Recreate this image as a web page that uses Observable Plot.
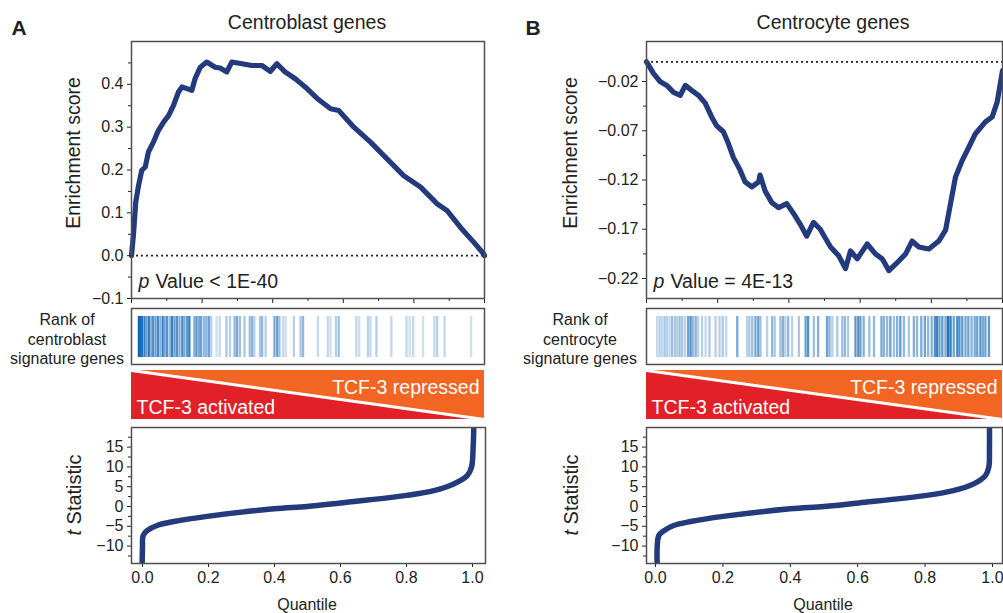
<!DOCTYPE html>
<html><head><meta charset="utf-8">
<script src="https://cdn.jsdelivr.net/npm/d3@7"></script>
<script src="https://cdn.jsdelivr.net/npm/@observablehq/plot@0.6"></script>
<style>
html,body{margin:0;padding:0;background:#fff;}
#fig{position:relative;width:1003px;height:613px;overflow:hidden;font-family:"Liberation Sans",Arial,Helvetica,sans-serif;color:#222;background:#fff;}
.lbl{position:absolute;white-space:nowrap;transform:translate(-50%,-50%);line-height:1;text-align:center;}
</style></head><body><div id="fig"></div>
<script>
// ---------- DATA ----------
const panelTitles = ["Centroblast genes", "Centrocyte genes"];
const panelLetters = ["A", "B"];
const pValueTexts = ["Value < 1E-40", "Value = 4E-13"];
const rankLabels = ["Rank of<br>centroblast<br>signature genes", "Rank of<br>centrocyte<br>signature genes"];
const bandTexts = ["TCF-3 repressed", "TCF-3 activated"];

// Enrichment score running sum, panel A (quantile, score)
const esQuantileA = [0, 0.006, 0.012, 0.020, 0.029, 0.039, 0.048, 0.062, 0.076, 0.091, 0.105, 0.119, 0.133, 0.143, 0.157, 0.171, 0.180, 0.195, 0.213, 0.237, 0.251, 0.270, 0.284, 0.313, 0.341, 0.369, 0.393, 0.412, 0.435, 0.464, 0.492, 0.526, 0.564, 0.587, 0.630, 0.677, 0.724, 0.771, 0.819, 0.866, 0.894, 0.932, 0.970, 0.998, 1.0];
const esScoreA = [0, 0.054, 0.125, 0.164, 0.199, 0.207, 0.242, 0.265, 0.292, 0.312, 0.327, 0.351, 0.382, 0.394, 0.390, 0.386, 0.413, 0.440, 0.452, 0.440, 0.438, 0.429, 0.452, 0.448, 0.444, 0.444, 0.430, 0.448, 0.429, 0.413, 0.394, 0.367, 0.343, 0.339, 0.300, 0.265, 0.226, 0.187, 0.160, 0.121, 0.105, 0.066, 0.031, 0.004, 0];

// Enrichment score running sum, panel B
const esQuantileB = [0, 0.020, 0.038, 0.057, 0.076, 0.095, 0.109, 0.127, 0.146, 0.165, 0.183, 0.197, 0.216, 0.230, 0.244, 0.263, 0.277, 0.296, 0.315, 0.319, 0.333, 0.352, 0.371, 0.394, 0.413, 0.432, 0.450, 0.469, 0.488, 0.517, 0.540, 0.559, 0.573, 0.592, 0.620, 0.643, 0.662, 0.681, 0.704, 0.728, 0.746, 0.765, 0.793, 0.821, 0.840, 0.854, 0.868, 0.887, 0.905, 0.924, 0.952, 0.971, 0.985, 1.0];
const esScoreB = [0, -0.012, -0.020, -0.024, -0.031, -0.034, -0.024, -0.029, -0.034, -0.042, -0.056, -0.065, -0.071, -0.083, -0.097, -0.110, -0.122, -0.127, -0.122, -0.115, -0.131, -0.143, -0.148, -0.144, -0.154, -0.165, -0.177, -0.163, -0.170, -0.188, -0.197, -0.210, -0.192, -0.200, -0.185, -0.195, -0.200, -0.212, -0.204, -0.195, -0.182, -0.188, -0.190, -0.182, -0.171, -0.144, -0.117, -0.100, -0.087, -0.073, -0.061, -0.056, -0.041, -0.009];

// Signature gene ranks (quantile position, shade intensity)
const stripQuantileA = [0.021, 0.025, 0.030, 0.037, 0.042, 0.049, 0.056, 0.061, 0.068, 0.075, 0.082, 0.089, 0.094, 0.101, 0.109, 0.115, 0.122, 0.129, 0.136, 0.144, 0.150, 0.158, 0.164, 0.178, 0.184, 0.191, 0.197, 0.205, 0.212, 0.219, 0.226, 0.241, 0.250, 0.269, 0.279, 0.292, 0.299, 0.307, 0.320, 0.335, 0.342, 0.348, 0.364, 0.370, 0.380, 0.405, 0.413, 0.419, 0.430, 0.437, 0.460, 0.479, 0.486, 0.528, 0.556, 0.564, 0.579, 0.587, 0.637, 0.645, 0.670, 0.677, 0.694, 0.736, 0.779, 0.788, 0.798, 0.826, 0.858, 0.866, 0.887, 0.962];
const stripShadeA = [1.0, 0.95, 0.9, 0.8, 0.6, 0.85, 0.5, 0.7, 0.6, 0.75, 0.5, 0.8, 0.55, 0.7, 0.45, 0.8, 0.6, 0.7, 0.5, 0.75, 0.55, 0.7, 0.8, 0.5, 0.65, 0.55, 0.6, 0.45, 0.5, 0.6, 0.3, 0.2, 0.25, 0.35, 0.3, 0.45, 0.55, 0.4, 0.35, 0.4, 0.5, 0.3, 0.35, 0.45, 0.3, 0.55, 0.65, 0.4, 0.25, 0.2, 0.3, 0.35, 0.45, 0.25, 0.25, 0.2, 0.3, 0.4, 0.25, 0.2, 0.3, 0.25, 0.3, 0.25, 0.25, 0.2, 0.25, 0.2, 0.25, 0.3, 0.25, 0.2];
const stripQuantileB = [0.030, 0.037, 0.044, 0.051, 0.058, 0.065, 0.072, 0.080, 0.086, 0.093, 0.100, 0.108, 0.117, 0.124, 0.130, 0.138, 0.145, 0.156, 0.166, 0.177, 0.194, 0.205, 0.214, 0.224, 0.255, 0.283, 0.289, 0.297, 0.306, 0.314, 0.320, 0.339, 0.353, 0.360, 0.376, 0.383, 0.390, 0.398, 0.409, 0.428, 0.447, 0.454, 0.470, 0.482, 0.507, 0.514, 0.522, 0.536, 0.550, 0.557, 0.566, 0.587, 0.595, 0.601, 0.610, 0.626, 0.639, 0.660, 0.667, 0.676, 0.685, 0.695, 0.704, 0.713, 0.723, 0.737, 0.751, 0.760, 0.772, 0.782, 0.791, 0.801, 0.810, 0.816, 0.823, 0.831, 0.840, 0.847, 0.854, 0.863, 0.873, 0.879, 0.887, 0.896, 0.904, 0.913, 0.922, 0.929, 0.938, 0.945, 0.952, 0.962];
const stripShadeB = [0.25, 0.3, 0.25, 0.35, 0.3, 0.25, 0.4, 0.35, 0.3, 0.4, 0.35, 0.3, 0.6, 0.7, 0.45, 0.5, 0.3, 0.3, 0.25, 0.35, 0.3, 0.3, 0.35, 0.25, 0.55, 0.3, 0.35, 0.4, 0.55, 0.6, 0.4, 0.3, 0.45, 0.35, 0.4, 0.5, 0.3, 0.45, 0.3, 0.35, 0.6, 0.7, 0.4, 0.5, 0.6, 0.5, 0.3, 0.35, 0.4, 0.45, 0.35, 0.65, 0.7, 0.6, 0.5, 0.4, 0.45, 0.55, 0.5, 0.45, 0.6, 0.4, 0.5, 0.65, 0.45, 0.35, 0.5, 0.45, 0.55, 0.6, 0.45, 0.5, 0.7, 0.8, 0.6, 0.65, 0.55, 0.9, 0.85, 0.6, 0.75, 0.7, 0.65, 0.55, 0.6, 0.5, 0.55, 0.6, 0.7, 0.55, 0.6, 0.65];

// Ranked t statistic (quantile, t)
const tQuantileA = [-0.001, 0.000, 0.002, 0.014, 0.044, 0.095, 0.196, 0.398, 0.499, 0.600, 0.800, 0.883, 0.943, 0.984, 0.997, 1.002, 1.004];
const tQuantileB = [0.005, 0.005, 0.010, 0.025, 0.054, 0.104, 0.201, 0.400, 0.500, 0.604, 0.805, 0.884, 0.944, 0.979, 0.989, 0.991, 0.991];
const tStat = [-14.8, -10.3, -7.3, -6.1, -4.8, -3.8, -2.5, -0.6, 0.0, 0.9, 2.8, 4.0, 5.7, 7.8, 9.9, 15.0, 20.5];

// Tick values
const esTicksA = [-0.1, 0, 0.1, 0.2, 0.3, 0.4];
const esMinorA = [-0.05, 0.05, 0.15, 0.25, 0.35, 0.45];
const esTicksB = [-0.22, -0.17, -0.12, -0.07, -0.02];
const esMinorB = [-0.195, -0.145, -0.095, -0.045];
const rankTicksMajor = [0, 0.2, 0.4, 0.6, 0.8, 1.0];
const rankTicksMinor = [0.1, 0.3, 0.5, 0.7, 0.9];
const tTicks = [-10, -5, 0, 5, 10, 15];
const tMinor = [-12.5, -7.5, -2.5, 2.5, 7.5, 12.5, 17.5];
const quantileTicks = [0, 0.2, 0.4, 0.6, 0.8, 1.0];

// Band (triangle) geometry in unit space
const bandQuantile = [0, 1];
const bandDiagonal = [1, 0];

// ---------- STYLE ----------
const FONT = '"Liberation Sans", Arial, Helvetica, sans-serif';
const LINE = "#233a7c";
const FRAME = "#4f4f4f";
const RED = "#e22027";
const ORANGE = "#f26522";
const fig = document.getElementById("fig");

function place(svg, left, top) {
  svg.style.position = "absolute";
  svg.style.left = left + "px";
  svg.style.top = top + "px";
  fig.append(svg);
}
function label(html, x, y, size, extra = {}) {
  const d = document.createElement("div");
  d.className = "lbl";
  d.innerHTML = html;
  d.style.left = x + "px";
  d.style.top = y + "px";
  d.style.fontSize = size + "px";
  if (extra.rotate) d.style.transform = "translate(-50%,-50%) rotate(-90deg)";
  if (extra.bold) d.style.fontWeight = "bold";
  if (extra.lh) d.style.lineHeight = extra.lh + "px";
  fig.append(d);
}
const baseStyle = {fontFamily: FONT, fontSize: "16px", color: "#222", background: "none", overflow: "visible"};
const minus = f => d => f(d).replace(/[-\u2212]/g, "\u2212");
const fmt1 = minus(d3.format(".1f")), fmt2 = minus(d3.format(".2f")), fmtI = minus(d3.format("d"));

function esPlot(q, s, yDomain, majors, minors, fmt, pText, w, ml, mr) {
  const rows = q.map((v, i) => ({q: v, es: s[i]}));
  return Plot.plot({
    width: w, height: 310, marginLeft: ml, marginRight: mr, marginTop: 41, marginBottom: 12,
    x: {domain: [0, 1]}, y: {domain: yDomain},
    style: baseStyle,
    marks: [
      Plot.ruleY([0], {stroke: "#222", strokeWidth: 1.8, strokeDasharray: "2,3"}),
      Plot.line(rows, {x: "q", y: "es", stroke: LINE, strokeWidth: 5.2, strokeLinejoin: "round"}),
      Plot.axisY({ticks: majors, tickSize: 4, tickPadding: 4, tickFormat: fmt, label: null, fill: "#222"}),
      Plot.axisY({ticks: minors, tickSize: 3, tickFormat: () => "", label: null}),
      Plot.axisX({ticks: rankTicksMajor, tickSize: 5, tickFormat: () => "", label: null}),
      Plot.axisX({ticks: rankTicksMinor, tickSize: 3, tickFormat: () => "", label: null}),
      Plot.text(["p"], {frameAnchor: "bottom-left", dx: 7, dy: -11, textAnchor: "start", fontSize: 19.5, fontStyle: "italic", fill: "#222"}),
      Plot.text([pText], {frameAnchor: "bottom-left", dx: 24, dy: -11, textAnchor: "start", fontSize: 19.5, fill: "#222"}),
      Plot.frame({stroke: FRAME, strokeWidth: 1.5})
    ]
  });
}
function stripPlot(q, shade, w, ml, mr) {
  const rows = q.map((v, i) => ({q: v, shade: shade[i]}));
  return Plot.plot({
    width: w, height: 62, marginLeft: ml, marginRight: mr, marginTop: 3, marginBottom: 3,
    x: {domain: [0, 1], axis: null}, y: {domain: [0, 1], axis: null},
    color: {type: "linear", domain: [0, 1], range: ["#ffffff", "#0a62b3"]},
    style: baseStyle,
    marks: [
      Plot.ruleX(rows, {x: "q", y1: 0.125, y2: 0.857, stroke: "shade", strokeWidth: 2.3}),
      Plot.frame({stroke: FRAME, strokeWidth: 1.5})
    ]
  });
}
function bandPlot(w, ml, mr) {
  const red = bandQuantile.map((v, i) => ({q: v, lo: 0, hi: bandDiagonal[i]}));
  const orange = bandQuantile.map((v, i) => ({q: v, lo: bandDiagonal[i], hi: 1}));
  return Plot.plot({
    width: w, height: 54, marginLeft: ml, marginRight: mr, marginTop: 2, marginBottom: 3,
    x: {domain: [0, 1], axis: null}, y: {domain: [0, 1], axis: null},
    style: baseStyle,
    marks: [
      Plot.areaY(red, {x: "q", y1: "lo", y2: "hi", fill: RED}),
      Plot.areaY(orange, {x: "q", y1: "lo", y2: "hi", fill: ORANGE}),
      Plot.line(red, {x: "q", y: "hi", stroke: "white", strokeWidth: 3}),
      Plot.text([bandTexts[0]], {x: 1, y: 0.653, dx: -5, textAnchor: "end", fill: "white", fontSize: 19.5}),
      Plot.text([bandTexts[1]], {x: 0, y: 0.245, dx: 5, textAnchor: "start", fill: "white", fontSize: 19.5})
    ]
  });
}
function tPlot(q, xDomain, w, ml, mr) {
  const rows = q.map((v, i) => ({q: v, t: tStat[i]}));
  return Plot.plot({
    width: w, height: 193, marginLeft: ml, marginRight: mr, marginTop: 7, marginBottom: 50,
    x: {domain: xDomain}, y: {domain: [-14.4, 19.95]},
    style: baseStyle,
    marks: [
      Plot.line(rows, {x: "q", y: "t", stroke: LINE, strokeWidth: 5.5, curve: "catmull-rom", clip: true}),
      Plot.axisY({ticks: tTicks, tickSize: 4, tickPadding: 4, tickFormat: fmtI, label: null, fill: "#222"}),
      Plot.axisY({ticks: tMinor, tickSize: 3, tickFormat: () => "", label: null}),
      Plot.axisX({ticks: quantileTicks, tickSize: 4, tickPadding: 4, tickFormat: fmt1, label: null, fill: "#222"}),
      Plot.frame({stroke: FRAME, strokeWidth: 1.5})
    ]
  });
}

// ---------- PANEL A ----------
place(esPlot(esQuantileA, esScoreA, [-0.1, 0.5], esTicksA, esMinorA, fmt1, pValueTexts[0], 500, 131, 16), 0, 0);
place(stripPlot(stripQuantileA, stripShadeA, 500, 131, 16), 0, 305);
place(bandPlot(500, 131, 16), 0, 368);
place(tPlot(tQuantileA, [-0.0333, 1.0394], 500, 131, 15), 0, 420);

// ---------- PANEL B ----------
place(esPlot(esQuantileB, esScoreB, [-0.2403, 0.0206], esTicksB, esMinorB, fmt2, pValueTexts[1], 503, 146, 1), 500, 0);
place(stripPlot(stripQuantileB, stripShadeB, 503, 146, 1), 500, 305);
place(bandPlot(503, 146, 1), 500, 368);
place(tPlot(tQuantileB, [-0.0267, 1.0297], 503, 146, 1), 500, 420);

// ---------- TEXT LABELS ----------
label(panelLetters[0], 19, 27, 21, {bold: true});
label(panelLetters[1], 533, 27, 21, {bold: true});
label(panelTitles[0], 307, 23, 19.5);
label(panelTitles[1], 833, 23, 19.5);
label("Enrichment score", 74, 153, 19.5, {rotate: true});
label("Enrichment score", 571, 153, 19.5, {rotate: true});
label(rankLabels[0], 67, 339, 16, {lh: 19.5});
label(rankLabels[1], 580, 339, 16, {lh: 19.5});
label("<i>t</i> Statistic", 74, 495, 20, {rotate: true});
label("<i>t</i> Statistic", 571, 495, 20, {rotate: true});
label("Quantile", 307, 605, 16);
label("Quantile", 823, 605, 16);
</script></body></html>
